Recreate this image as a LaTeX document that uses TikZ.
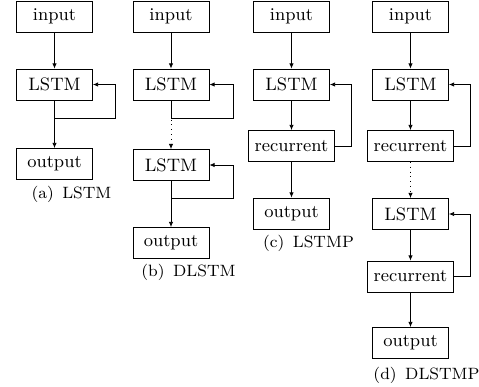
\documentclass[tikz,border=0pt]{standalone}
\usetikzlibrary{arrows.meta}

\begin{document}
\begin{tikzpicture}[>={Latex[length=2.6pt,width=2.2pt]}, x=0.5pt, y=-0.5pt,
        blk/.style={draw, minimum width=38pt, minimum height=15.5pt, inner sep=3.2pt,
            font=\fontsize{9}{11}\selectfont},
        subcap/.style={font=\fontsize{8.2}{10}\selectfont}]
        \useasboundingbox (0,0) rectangle (479,387);

        % (a) LSTM
        \node[blk] (ain) at (54.5,16.5){input};
        \node[blk] (alstm) at (54.5,84.5){LSTM};
        \node[blk] (aout) at (54.5,164){output};
        \coordinate (aloop) at (115,118);
        \draw[->] (ain) -- (alstm);
        \draw[->] (alstm) -- (aout);
        \draw[->] (alstm.south) |- (aloop) |- (alstm.east);
        \node[subcap] (acap) at (71.5,194){(a)\ \,LSTM};

        % (b) DLSTM
        \node[blk] (bin) at (171,16.5){input};
        \node[blk] (blstm) at (171,84.5){LSTM};
        \node[blk] (blstmb) at (171,165){LSTM};
        \node[blk] (bout) at (171,243){output};
        \coordinate (bloop) at (233,118);
        \coordinate (bloopb) at (233,198);
        \draw[->] (bin) -- (blstm);
        \draw[->, dotted] (blstm) -- (blstmb);
        \draw[->] (blstmb) -- (bout);
        \draw[->] (blstm.south) |- (bloop) |- (blstm.east);
        \draw[->] (blstmb.south) |- (bloopb) |- (blstmb.east);
        \node[subcap] (bcap) at (188.5,272){(b)\ \,DLSTM};

        % (c) LSTMP
        \node[blk] (cin) at (291.5,16.5){input};
        \node[blk] (clstm) at (291.5,84.5){LSTM};
        \node[blk] (crec) at (291.5,146){recurrent};
        \node[blk] (cout) at (291.5,213.5){output};
        \coordinate (cloop) at (351,84.5);
        \draw[->] (cin) -- (clstm);
        \draw[->] (clstm) -- (crec);
        \draw[->] (crec) -- (cout);
        \draw[->] (crec.east) -| (cloop) -- (clstm.east);
        \node[subcap] (ccap) at (308.5,243.5){(c)\ \,LSTMP};

        % (d) DLSTMP
        \node[blk] (din) at (410.5,16.5){input};
        \node[blk] (dlstm) at (410.5,84.5){LSTM};
        \node[blk] (drec) at (410.5,146){recurrent};
        \node[blk] (dlstmb) at (410.5,214){LSTM};
        \node[blk] (drecb) at (410.5,276.5){recurrent};
        \node[blk] (dout) at (410.5,343){output};
        \coordinate (dloop) at (470.5,84.5);
        \coordinate (dloopb) at (470.5,214);
        \draw[->] (din) -- (dlstm);
        \draw[->] (dlstm) -- (drec);
        \draw[->, dotted] (drec) -- (dlstmb);
        \draw[->] (dlstmb) -- (drecb);
        \draw[->] (drecb) -- (dout);
        \draw[->] (drec.east) -| (dloop) -- (dlstm.east);
        \draw[->] (drecb.east) -| (dloopb) -- (dlstmb.east);
        \node[subcap] (dcap) at (426.5,375){(d)\ \,DLSTMP};
    \end{tikzpicture}
\end{document}
